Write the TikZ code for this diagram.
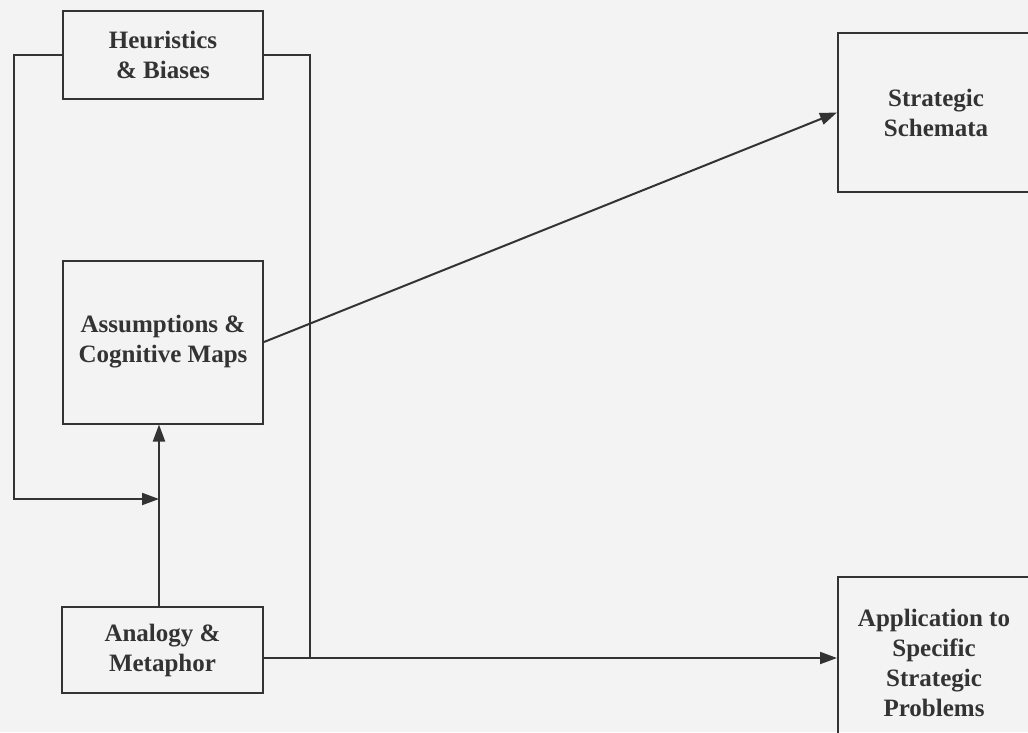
\documentclass[tikz,border=0pt]{standalone}
\usepackage{fontspec}
\setmainfont{Liberation Serif}
\usetikzlibrary{arrows.meta}
\definecolor{paper}{HTML}{F3F3F3}
\definecolor{ink}{HTML}{333333}
\begin{document}
\begin{tikzpicture}[x=1pt,y=-1pt,
  box/.style={draw=ink,line width=2pt,rectangle,align=center,inner sep=0pt,
    text=ink,font=\bfseries\fontsize{25}{30}\selectfont},
  link/.style={draw=ink,line width=2pt},
  arr/.style={link,-{Triangle[length=17pt,width=12pt]}}]
  % page and background
  \fill[paper] (0,0) rectangle (1028,732);
  \useasboundingbox (0,0) rectangle (1028,732);
  \clip (0,0) rectangle (1028,732);

  % left column
  \node[box,minimum width=200pt,minimum height=88pt] (heur) at (163,55) {Heuristics\\\& Biases};
  \node[box,minimum width=200pt,minimum height=163pt] (assum) at (163,342) {Assumptions \&\\Cognitive Maps};
  \node[box,minimum width=201pt,minimum height=86pt] (analog) at (162.5,650) {Analogy \&\\Metaphor};

  % right column (boxes run past the page edge)
  \node[box,minimum width=196pt,minimum height=159pt] (schem) at (936,112.5) {Strategic\\Schemata};
  \node[box,minimum width=192pt,minimum height=172pt] (appl) at (934,663) {Application to\\Specific\\Strategic\\Problems};

  % loop coordinates
  \coordinate (lcorner) at (14,55);
  \coordinate (rcorner) at (310,55);
  \coordinate (merge) at (310,658);
  \coordinate (joinpt) at (159,499);

  % connectors
  \draw[arr] (analog.north -| joinpt) -- (assum.south -| joinpt);
  \draw[arr] (heur.west) -- (lcorner) -- (lcorner |- joinpt) -- (joinpt);
  \draw[link] (heur.east) -- (rcorner) -- (merge);
  \draw[arr] (analog.east |- merge) -- (appl.west |- merge);
  \draw[arr] (assum.east) -- (schem.west);
\end{tikzpicture}
\end{document}
